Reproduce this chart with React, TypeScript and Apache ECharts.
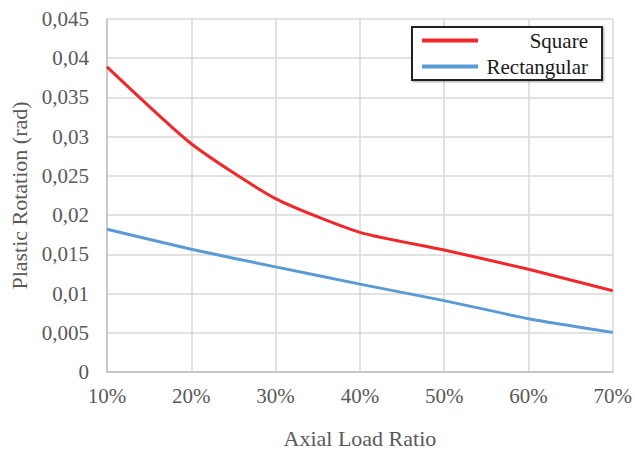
import React, { useEffect, useRef } from "react";
import * as echarts from "echarts";

const categories = ["10%", "20%", "30%", "40%", "50%", "60%", "70%"];
const squareValues = [0.0389, 0.0291, 0.0221, 0.0178, 0.01555, 0.0131, 0.01035];
const rectangularValues = [0.0182, 0.01565, 0.0134, 0.0112, 0.0091, 0.0068, 0.00505];
const seriesNames = ["Square", "Rectangular"];
const yMin = 0;
const yMax = 0.045;
const yInterval = 0.005;

const FONT = "'Liberation Serif', 'Times New Roman', serif";

export default function App() {
  const ref = useRef<HTMLDivElement>(null);
  useEffect(() => {
    if (!ref.current) return;
    const chart = echarts.init(ref.current, undefined, { renderer: "svg" });
    chart.setOption({
      animation: false,
      backgroundColor: "#ffffff",
      textStyle: { fontFamily: FONT },
      grid: { left: 107, right: 22, top: 19, bottom: 81, containLabel: false },
      legend: {
        orient: "vertical",
        left: 412,
        top: 27,
        padding: [3, 14, 3, 10],
        itemGap: 5,
        itemWidth: 56,
        itemHeight: 4,
        icon: "rect",
        backgroundColor: "#ffffff",
        borderColor: "#222222",
        borderWidth: 2,
        borderRadius: 0,
        shadowColor: "rgba(0,0,0,0.35)",
        shadowBlur: 2,
        shadowOffsetX: 1,
        shadowOffsetY: 1,
        data: seriesNames,
        formatter: (name: string) => `{r|${name}}`,
        textStyle: {
          fontFamily: FONT,
          rich: {
            r: {
              width: 105,
              align: "right",
              fontSize: 21,
              lineHeight: 20,
              color: "#1a1a1a",
              fontFamily: FONT,
            },
          },
        },
      },
      xAxis: {
        type: "category",
        data: categories,
        boundaryGap: false,
        name: "Axial Load Ratio",
        nameLocation: "middle",
        nameGap: 55,
        nameTextStyle: { fontSize: 22, color: "#595959", fontFamily: FONT },
        axisLine: { show: true, lineStyle: { color: "#bfbfbf", width: 1.5 } },
        axisTick: { show: false },
        axisLabel: { fontSize: 21, color: "#595959", margin: 13, fontFamily: FONT },
        splitLine: { show: true, lineStyle: { color: "#d9d9d9", width: 1.5 } },
      },
      yAxis: {
        type: "value",
        min: yMin,
        max: yMax,
        interval: yInterval,
        name: "Plastic Rotation (rad)",
        nameLocation: "middle",
        nameGap: 75,
        nameTextStyle: { fontSize: 22, color: "#595959", fontFamily: FONT },
        axisLine: { show: true, lineStyle: { color: "#bfbfbf", width: 1.5 } },
        axisTick: { show: false },
        axisLabel: {
          fontSize: 21,
          color: "#595959",
          margin: 18,
          fontFamily: FONT,
          formatter: (v: number) => String(parseFloat(v.toFixed(3))).replace(".", ","),
        },
        splitLine: { show: true, lineStyle: { color: "#d9d9d9", width: 1.5 } },
      },
      series: [
        {
          name: seriesNames[0],
          type: "line",
          data: squareValues,
          smooth: 0.2,
          showSymbol: false,
          symbol: "none",
          lineStyle: { color: "#f0282a", width: 3 },
          itemStyle: { color: "#f0282a" },
        },
        {
          name: seriesNames[1],
          type: "line",
          data: rectangularValues,
          smooth: 0.2,
          showSymbol: false,
          symbol: "none",
          lineStyle: { color: "#5b9bd5", width: 3 },
          itemStyle: { color: "#5b9bd5" },
        },
      ],
    });
    return () => chart.dispose();
  }, []);
  return <div ref={ref} style={{ width: 635, height: 454, position: "absolute", left: 0, top: 0 }} />;
}
